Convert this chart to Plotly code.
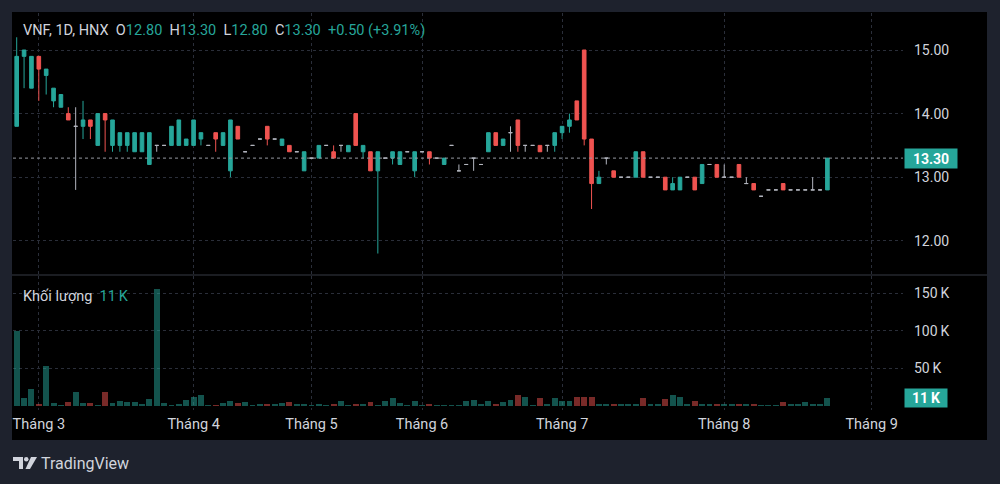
import plotly.graph_objects as go
from plotly.subplots import make_subplots

# ---------------------------------------------------------------
# du lieu VNF (1D, HNX) - doc tu hinh
opens = [13.8, 14.9, 14.4, 14.9, 14.6, 14.2, 14.1, 14.0, 13.8, 13.8,
         13.9, 13.5, 14.0, 13.5, 13.5, 13.5, 13.4, 13.4, 13.2, 13.5,
         13.5, 13.5, 13.5, 13.5, 13.5, 13.6, 13.5, 13.7, 13.5, 13.1,
         13.8, 13.4, 13.5, 13.6, 13.8, 13.6, 13.5, 13.5, 13.4, 13.1,
         13.3, 13.3, 13.5, 13.4, 13.5, 13.4, 14.0, 13.4, 13.4, 13.1,
         13.3, 13.3, 13.2, 13.4, 13.1, 13.4, 13.4, 13.3, 13.2, 13.5,
         13.1, 13.2, 13.3, 13.2, 13.4, 13.7, 13.5, 13.7, 13.9, 13.5,
         13.5, 13.5, 13.5, 13.5, 13.7, 13.8, 14.2, 15.0, 13.6, 12.9,
         13.3, 13.1, 13.0, 13.0, 13.0, 13.4, 13.0, 13.0, 13.0, 12.8,
         12.8, 13.0, 13.0, 12.9, 13.2, 13.2, 13.0, 13.0, 13.2, 12.9,
         12.9, 12.7, 12.8, 12.8, 12.9, 12.8, 12.8, 12.8, 12.8, 12.8,
         12.8]
highs = [15.2, 15.0, 14.9, 14.9, 14.7, 14.4, 14.3, 14.1, 14.1, 14.2,
         13.9, 14.0, 14.0, 13.9, 13.7, 13.7, 13.7, 13.7, 13.7, 13.5,
         13.5, 13.8, 13.9, 13.6, 13.9, 13.7, 13.5, 13.7, 13.7, 13.9,
         13.8, 13.4, 13.5, 13.6, 13.8, 13.6, 13.6, 13.5, 13.4, 13.4,
         13.3, 13.5, 13.5, 13.5, 13.5, 13.5, 14.0, 13.5, 13.4, 13.4,
         13.3, 13.4, 13.4, 13.4, 13.4, 13.4, 13.4, 13.3, 13.3, 13.5,
         13.2, 13.2, 13.3, 13.2, 13.7, 13.7, 13.6, 13.8, 13.9, 13.5,
         13.5, 13.5, 13.5, 13.7, 13.8, 14.0, 14.2, 15.0, 13.6, 13.1,
         13.3, 13.1, 13.0, 13.0, 13.4, 13.4, 13.0, 13.0, 13.0, 13.0,
         13.0, 13.0, 13.0, 13.2, 13.2, 13.2, 13.2, 13.0, 13.2, 13.0,
         12.9, 12.7, 12.8, 12.8, 12.9, 12.8, 12.8, 12.8, 13.0, 12.8,
         13.3]
lows = [13.8, 14.4, 14.4, 14.2, 14.3, 14.1, 14.1, 13.9, 12.8, 13.6,
        13.6, 13.5, 13.4, 13.4, 13.4, 13.4, 13.4, 13.4, 13.2, 13.4,
        13.5, 13.5, 13.5, 13.5, 13.5, 13.5, 13.5, 13.4, 13.5, 13.0,
        13.6, 13.4, 13.5, 13.6, 13.5, 13.6, 13.5, 13.4, 13.4, 13.1,
        13.3, 13.3, 13.5, 13.3, 13.4, 13.4, 13.5, 13.3, 13.1, 11.8,
        13.3, 13.2, 13.2, 13.4, 13.0, 13.4, 13.2, 13.3, 13.2, 13.5,
        13.1, 13.2, 13.1, 13.2, 13.4, 13.5, 13.5, 13.4, 13.4, 13.4,
        13.5, 13.4, 13.4, 13.4, 13.6, 13.7, 13.9, 13.5, 12.5, 12.9,
        13.2, 13.0, 13.0, 13.0, 13.0, 13.0, 13.0, 13.0, 12.8, 12.8,
        12.8, 13.0, 12.8, 12.9, 13.2, 13.0, 13.0, 13.0, 13.0, 12.9,
        12.8, 12.7, 12.8, 12.8, 12.8, 12.8, 12.8, 12.8, 12.8, 12.8,
        12.8]
closes = [14.9, 15.0, 14.9, 14.7, 14.7, 14.4, 14.3, 13.9, 13.8, 13.9,
          13.8, 14.0, 13.9, 13.9, 13.7, 13.7, 13.7, 13.7, 13.7, 13.5,
          13.5, 13.8, 13.9, 13.6, 13.9, 13.7, 13.5, 13.6, 13.7, 13.9,
          13.6, 13.4, 13.5, 13.6, 13.6, 13.6, 13.6, 13.4, 13.4, 13.4,
          13.3, 13.5, 13.5, 13.3, 13.5, 13.5, 13.5, 13.5, 13.1, 13.4,
          13.3, 13.4, 13.4, 13.4, 13.4, 13.4, 13.3, 13.3, 13.3, 13.5,
          13.1, 13.2, 13.3, 13.2, 13.7, 13.5, 13.6, 13.7, 13.5, 13.5,
          13.5, 13.4, 13.5, 13.7, 13.8, 13.9, 13.9, 13.6, 12.9, 13.0,
          13.3, 13.0, 13.0, 13.0, 13.4, 13.0, 13.0, 13.0, 12.8, 12.9,
          13.0, 13.0, 12.8, 13.2, 13.2, 13.0, 13.0, 13.0, 13.0, 12.9,
          12.8, 12.7, 12.8, 12.8, 12.8, 12.8, 12.8, 12.8, 12.8, 12.8,
          13.3]
# khoi luong (nghin co phieu)
volumes_k = [100, 11, 23, 3, 53, 4, 1.5, 5.5, 19, 4,
             4, 1, 19, 4, 6, 5, 5, 3, 8.5, 156,
             4, 1.5, 2.5, 8, 11.5, 14.5, 1, 1, 4, 7,
             4, 5.5, 1, 2.5, 3, 2, 4, 5, 2.5, 2,
             1, 2, 1, 2.5, 6, 1, 3, 3, 5, 1,
             6, 11, 4, 1.5, 6, 1, 2, 1, 1, 1,
             1, 7, 8, 2, 6.5, 2, 5, 8, 15, 12,
             1, 10, 2, 11, 6, 6, 12, 12, 11.5, 2,
             2, 3, 2, 3, 2, 10, 2, 2, 9, 14,
             12, 2, 6, 3, 2, 2, 2.5, 2.5, 3, 2.5,
             2.5, 1, 1, 1, 5, 2, 2, 5, 2, 2,
             11]
month_labels = ["Tháng 3", "Tháng 4", "Tháng 5", "Tháng 6", "Tháng 7", "Tháng 8", "Tháng 9"]
month_start_bar = [3, 24, 40, 55, 74, 96, 116]
price_ticks = [12, 13, 14, 15]
vol_ticks = [50000, 100000, 150000]
vol_tick_labels = ["50\u2009K", "100\u2009K", "150\u2009K"]

# ---------------------------------------------------------------
UP = "#26a69a"
DOWN = "#ef5350"
FLAT = "#b2b5be"
TXT = "#d1d4dc"
GRID = "#2a2e39"
W, H = 1000, 484
L, R, T, B = 13, 97, 13, 74
pw, ph = W - L - R, H - T - B


def px_x(p):
    return (p - L) / pw


def px_y(p):
    return (H - B - p) / ph


bars = list(range(len(opens)))
volumes = [v * 1000 for v in volumes_k]

fig = make_subplots(rows=2, cols=1, shared_xaxes=True)

groups = [
    ([i for i in bars if closes[i] > opens[i]], UP),
    ([i for i in bars if closes[i] < opens[i]], DOWN),
    ([i for i in bars if closes[i] == opens[i]], FLAT),
]
for idx, col in groups:
    fig.add_trace(go.Candlestick(
        x=idx,
        open=[opens[i] for i in idx], high=[highs[i] for i in idx],
        low=[lows[i] for i in idx], close=[closes[i] for i in idx],
        increasing=dict(line=dict(color=col, width=1), fillcolor=col),
        decreasing=dict(line=dict(color=col, width=1), fillcolor=col),
        whiskerwidth=0, showlegend=False, hoverinfo="skip"), row=1, col=1)

vol_colors = ["rgba(38,166,154,0.5)" if closes[i] >= opens[i] else "rgba(239,83,80,0.5)" for i in bars]
fig.add_trace(go.Bar(x=bars, y=volumes, width=0.8, marker=dict(color=vol_colors, line=dict(width=0)),
                     showlegend=False, hoverinfo="skip"), row=2, col=1)

axis_font = dict(family="Roboto", size=14, color=TXT)
xr = [(L - 16.7) / 7.37, (L + pw - 16.7) / 7.37]
fig.update_xaxes(range=xr, tickvals=month_start_bar, ticktext=month_labels, showgrid=True,
                 gridcolor=GRID, griddash="dot", gridwidth=1, zeroline=False, showline=False,
                 ticks="", tickfont=dict(family="Roboto", size=14.5, color=TXT), rangeslider_visible=False)
fig.update_xaxes(showticklabels=False, row=1, col=1)
fig.update_xaxes(ticklabelstandoff=3, row=2, col=1)

fig.update_yaxes(side="right", showgrid=True, gridcolor=GRID, griddash="dot", zeroline=False,
                 showline=False, ticks="", tickfont=axis_font, ticklabelstandoff=10)
fig.update_yaxes(range=[15 - (274 - 50) / 63.6, 15 + (50 - 13) / 63.6], tickvals=price_ticks,
                 tickformat=".2f", domain=[px_y(274), 1], row=1, col=1)
fig.update_yaxes(range=[-(410 - 405.8) / 0.00075, (405.8 - 276) / 0.00075], tickvals=vol_ticks,
                 ticktext=vol_tick_labels, domain=[0, px_y(276)], row=2, col=1)

last_close = closes[-1]
prev_close = closes[-2]
chg = last_close - prev_close
g = lambda s: '<span style="color:%s">%s</span>' % (UP, s)
legend_txt = ("VNF, 1D, HNX&nbsp;&nbsp;O" + g("%.2f" % opens[-1]) + "&nbsp;&nbsp;H" + g("%.2f" % highs[-1])
              + "&nbsp;&nbsp;L" + g("%.2f" % lows[-1]) + "&nbsp;&nbsp;C" + g("%.2f" % last_close)
              + "&nbsp;&nbsp;" + g("%+.2f (%+.2f%%)" % (chg, chg / prev_close * 100)))

shapes = [
    # nen den cua khung bieu do
    dict(type="rect", xref="paper", yref="paper", x0=px_x(12), x1=px_x(987), y0=px_y(440), y1=px_y(12),
         fillcolor="#000000", line=dict(width=0), layer="below"),
    # duong ngan cach 2 khung
    dict(type="line", xref="paper", yref="paper", x0=px_x(12), x1=px_x(987), y0=px_y(275), y1=px_y(275),
         line=dict(color="#363a45", width=1)),
    # duong gia hien tai
    dict(type="line", xref="paper", yref="y", x0=0, x1=1, y0=last_close, y1=last_close,
         line=dict(color="#9598a1", width=1, dash="dot")),
    # logo TradingView
    dict(type="rect", xref="paper", yref="paper", x0=px_x(13), x1=px_x(23), y0=px_y(461), y1=px_y(457),
         fillcolor=TXT, line=dict(width=0)),
    dict(type="rect", xref="paper", yref="paper", x0=px_x(19), x1=px_x(23), y0=px_y(469), y1=px_y(457),
         fillcolor=TXT, line=dict(width=0)),
    dict(type="circle", xref="paper", yref="paper", x0=px_x(24), x1=px_x(28.5), y0=px_y(461.5), y1=px_y(457),
         fillcolor=TXT, line=dict(width=0)),
    dict(type="path", xref="paper", yref="paper",
         path="M %f %f L %f %f L %f %f L %f %f Z" % (px_x(31), px_y(457), px_x(37), px_y(457),
                                                    px_x(30), px_y(469), px_x(25.5), px_y(469)),
         fillcolor=TXT, line=dict(width=0)),
]

annotations = [
    dict(text=legend_txt, xref="paper", yref="paper", x=px_x(21), y=px_y(31), xanchor="left",
         yanchor="middle", showarrow=False, font=dict(family="Roboto", size=14.5, color=TXT)),
    dict(text="Khối lượng&nbsp;&nbsp;" + g("%d\u2009K" % round(volumes_k[-1])), xref="paper", yref="paper",
         x=px_x(21), y=px_y(296), xanchor="left", yanchor="middle", showarrow=False,
         font=dict(family="Roboto", size=14.5, color=TXT)),
    dict(text="<b>%.2f</b>" % last_close, xref="paper", yref="y", x=px_x(904), y=last_close,
         xanchor="left", yanchor="middle", showarrow=False, bgcolor=UP, width=50, height=17,
         font=dict(family="Roboto", size=14, color="#ffffff")),
    dict(text="<b>%d\u2009K</b>" % round(volumes_k[-1]), xref="paper", yref="y2", x=px_x(904),
         y=volumes[-1], xanchor="left", yanchor="middle", showarrow=False, bgcolor=UP, width=40,
         height=16, font=dict(family="Roboto", size=14, color="#ffffff")),
    dict(text="TradingView", xref="paper", yref="paper", x=px_x(39), y=px_y(463), xanchor="left",
         yanchor="middle", showarrow=False, font=dict(family="Roboto", size=16, color=TXT)),
]

fig.update_layout(
    width=W, height=H, margin=dict(l=L, r=R, t=T, b=B),
    paper_bgcolor="#1e222d", plot_bgcolor="#000000",
    shapes=shapes, annotations=annotations, bargap=0, hovermode=False,
)

fig.write_html("out.html", config={"displayModeBar": False},
               post_script="document.body.style.margin='0';document.body.style.background='#1e222d';")
